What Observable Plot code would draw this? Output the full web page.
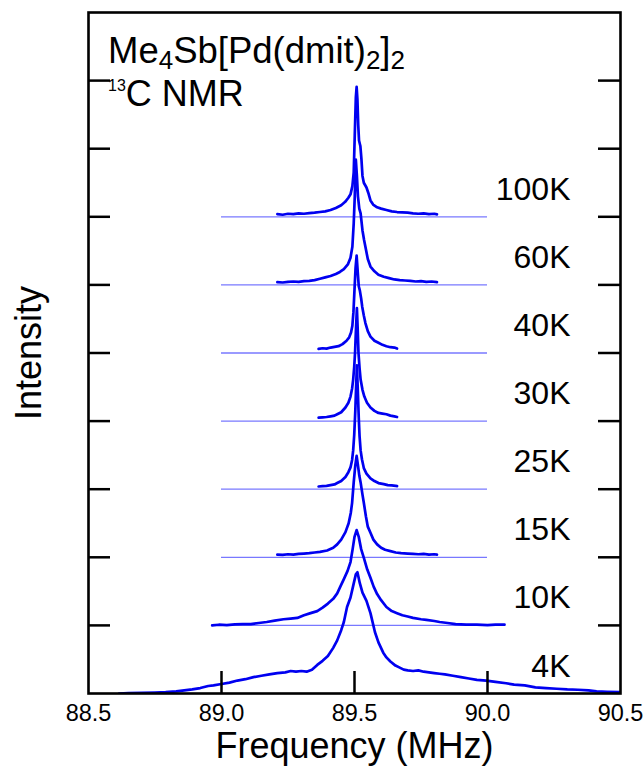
<!DOCTYPE html>
<html>
<head>
<meta charset="utf-8">
<script src="https://cdn.jsdelivr.net/npm/d3@7"></script>
<script src="https://cdn.jsdelivr.net/npm/@observablehq/plot@0.6"></script>
<style>
  html, body { margin: 0; padding: 0; background: #fff; }
</style>
</head>
<body>
<div id="chart"></div>
<script>
// ---- data (frequency in MHz, intensity in offset units) ----
const temps = ["4K", "10K", "15K", "25K", "30K", "40K", "60K", "100K"];
const offsets = [0, 1, 2, 3, 4, 5, 6, 7];
const baselineRange = [89.0, 90.0];
const xTickValues = [88.5, 89.0, 89.5, 90.0, 90.5];
const xInnerTicks = [89.0, 89.5, 90.0];
const yTickValues = [1, 2, 3, 4, 5, 6, 7, 8, 9];
const titleLine1 = ["Me", "4", "Sb[Pd(dmit)", "2", "]", "2"];
const titleLine2 = ["13", "C NMR"];
const xLabel = "Frequency (MHz)";
const yLabel = "Intensity";

const spec100K = [[89.21,0.04],[89.23,0.03],[89.25,0.045],[89.27,0.04],[89.29,0.05],[89.31,0.045],[89.33,0.055],[89.35,0.06],[89.37,0.07],[89.39,0.08],[89.41,0.1],[89.43,0.13],[89.45,0.17],[89.465,0.22],[89.477,0.28],[89.485,0.33],[89.492,0.45],[89.497,0.65],[89.501,1.2],[89.505,1.75],[89.508,1.91],[89.511,1.72],[89.514,1.35],[89.517,1.12],[89.522,1.04],[89.526,0.85],[89.53,0.6],[89.535,0.5],[89.545,0.43],[89.552,0.35],[89.56,0.24],[89.57,0.18],[89.585,0.14],[89.6,0.12],[89.62,0.1],[89.64,0.08],[89.66,0.07],[89.68,0.065],[89.7,0.06],[89.72,0.05],[89.74,0.045],[89.76,0.05],[89.78,0.04],[89.8,0.045],[89.81,0.035]];
const spec60K = [[89.21,0.04],[89.23,0.035],[89.25,0.045],[89.27,0.05],[89.29,0.045],[89.31,0.055],[89.33,0.06],[89.35,0.07],[89.37,0.09],[89.39,0.11],[89.41,0.13],[89.43,0.16],[89.445,0.19],[89.46,0.23],[89.475,0.3],[89.485,0.4],[89.492,0.56],[89.497,0.9],[89.501,1.3],[89.505,1.84],[89.509,1.6],[89.513,1.3],[89.518,1.12],[89.523,1.05],[89.53,0.8],[89.536,0.66],[89.541,0.56],[89.55,0.38],[89.56,0.27],[89.575,0.2],[89.59,0.15],[89.61,0.12],[89.63,0.1],[89.65,0.08],[89.67,0.07],[89.69,0.065],[89.71,0.06],[89.73,0.05],[89.75,0.055],[89.77,0.045],[89.79,0.05],[89.81,0.04]];
const spec40K = [[89.365,0.06],[89.38,0.07],[89.395,0.065],[89.41,0.08],[89.425,0.09],[89.44,0.1],[89.455,0.13],[89.47,0.18],[89.48,0.23],[89.487,0.3],[89.492,0.4],[89.496,0.6],[89.5,0.93],[89.504,1.25],[89.508,1.43],[89.512,1.2],[89.516,0.98],[89.52,0.92],[89.525,0.8],[89.529,0.68],[89.535,0.55],[89.541,0.44],[89.55,0.32],[89.56,0.24],[89.575,0.18],[89.59,0.15],[89.605,0.12],[89.62,0.1],[89.635,0.085],[89.65,0.08],[89.66,0.065]];
const spec30K = [[89.365,0.05],[89.38,0.055],[89.395,0.06],[89.41,0.07],[89.425,0.08],[89.435,0.1],[89.45,0.13],[89.466,0.2],[89.477,0.27],[89.485,0.36],[89.491,0.48],[89.495,0.61],[89.499,0.8],[89.502,1.0],[89.505,1.3],[89.509,1.66],[89.512,1.35],[89.515,1.0],[89.519,0.78],[89.523,0.61],[89.53,0.46],[89.537,0.36],[89.547,0.27],[89.56,0.2],[89.575,0.15],[89.59,0.12],[89.605,0.11],[89.62,0.1],[89.635,0.08],[89.65,0.07],[89.66,0.06]];
const spec25K = [[89.365,0.04],[89.38,0.045],[89.395,0.05],[89.41,0.06],[89.425,0.07],[89.435,0.09],[89.45,0.12],[89.466,0.18],[89.477,0.25],[89.485,0.32],[89.491,0.43],[89.495,0.57],[89.499,0.8],[89.503,1.15],[89.506,1.5],[89.509,1.82],[89.512,1.5],[89.516,1.05],[89.519,0.78],[89.523,0.57],[89.528,0.44],[89.535,0.31],[89.545,0.23],[89.56,0.16],[89.575,0.12],[89.59,0.09],[89.61,0.075],[89.625,0.06],[89.64,0.055],[89.655,0.05],[89.66,0.045]];
const spec15K = [[89.21,0.04],[89.23,0.035],[89.25,0.045],[89.27,0.04],[89.29,0.05],[89.31,0.055],[89.33,0.06],[89.35,0.07],[89.37,0.08],[89.397,0.1],[89.42,0.14],[89.435,0.19],[89.45,0.26],[89.466,0.37],[89.478,0.5],[89.486,0.65],[89.491,0.8],[89.497,1.1],[89.503,1.35],[89.508,1.49],[89.513,1.35],[89.518,1.2],[89.523,1.1],[89.53,0.92],[89.535,0.8],[89.543,0.6],[89.55,0.45],[89.56,0.36],[89.571,0.26],[89.585,0.19],[89.6,0.14],[89.615,0.11],[89.635,0.09],[89.655,0.07],[89.675,0.06],[89.7,0.055],[89.72,0.05],[89.74,0.045],[89.76,0.05],[89.78,0.04],[89.8,0.045],[89.81,0.04]];
const spec10K = [[88.965,0.0],[88.99,0.01],[89.02,0.005],[89.05,0.015],[89.08,0.02],[89.11,0.02],[89.14,0.035],[89.17,0.05],[89.2,0.07],[89.233,0.09],[89.26,0.1],[89.285,0.11],[89.31,0.15],[89.335,0.18],[89.36,0.21],[89.38,0.26],[89.4,0.32],[89.42,0.39],[89.435,0.47],[89.448,0.58],[89.46,0.68],[89.474,0.8],[89.485,0.93],[89.493,1.12],[89.5,1.3],[89.508,1.4],[89.516,1.3],[89.525,1.12],[89.536,0.98],[89.548,0.82],[89.56,0.7],[89.572,0.57],[89.585,0.46],[89.6,0.37],[89.62,0.27],[89.64,0.21],[89.66,0.18],[89.68,0.15],[89.7,0.13],[89.72,0.11],[89.75,0.09],[89.77,0.08],[89.8,0.065],[89.82,0.05],[89.85,0.035],[89.88,0.02],[89.92,0.01],[89.96,0.01],[90.0,0.005],[90.03,0.01],[90.064,0.01]];
const spec4K = [[88.615,0.0],[88.65,0.005],[88.7,0.01],[88.75,0.015],[88.79,0.02],[88.83,0.03],[88.86,0.045],[88.89,0.06],[88.92,0.08],[88.95,0.11],[88.97,0.12],[89.0,0.14],[89.03,0.16],[89.06,0.19],[89.09,0.21],[89.12,0.24],[89.15,0.26],[89.18,0.28],[89.21,0.3],[89.24,0.31],[89.26,0.33],[89.28,0.32],[89.3,0.33],[89.32,0.32],[89.34,0.35],[89.36,0.42],[89.38,0.48],[89.4,0.55],[89.42,0.67],[89.435,0.78],[89.45,0.93],[89.46,1.05],[89.472,1.27],[89.485,1.41],[89.495,1.58],[89.505,1.75],[89.511,1.78],[89.52,1.62],[89.53,1.48],[89.545,1.36],[89.56,1.18],[89.577,0.9],[89.59,0.75],[89.608,0.6],[89.62,0.53],[89.635,0.47],[89.654,0.41],[89.67,0.38],[89.685,0.35],[89.7,0.34],[89.72,0.33],[89.74,0.34],[89.76,0.32],[89.78,0.31],[89.8,0.3],[89.82,0.29],[89.84,0.28],[89.87,0.26],[89.9,0.24],[89.93,0.22],[89.96,0.2],[89.995,0.19],[90.03,0.17],[90.07,0.15],[90.1,0.13],[90.14,0.12],[90.18,0.09],[90.22,0.08],[90.26,0.07],[90.3,0.06],[90.34,0.055],[90.38,0.045],[90.41,0.03],[90.45,0.025],[90.5,0.02]];

const spectra = [spec4K, spec10K, spec15K, spec25K, spec30K, spec40K, spec60K, spec100K];

// ---- build table ----
const rows = spectra.flatMap((s, i) => s.map(([f, h]) => ({f, v: offsets[i] + h, T: temps[i]})));
const baselines = offsets.slice(1);

const W = 644, H = 774;
const mL = 88, mR = 24, mT = 12, mB = 81;
const fw = W - mL - mR, fh = H - mT - mB;
const tick = 22;
const font = "'Liberation Sans', Arial, Helvetica, sans-serif";

const plot = Plot.plot({
  width: W, height: H,
  marginLeft: mL, marginRight: mR, marginTop: mT, marginBottom: mB,
  style: {fontFamily: font, background: "#fff", overflow: "visible"},
  x: {domain: [88.5, 90.5], axis: null},
  y: {domain: [0, 10], axis: null},
  marks: [
    Plot.ruleY(baselines, {y: d => d, x1: baselineRange[0], x2: baselineRange[1], stroke: "#7878ff", strokeWidth: 1.3}),
    Plot.line(rows, {x: "f", y: "v", z: "T", stroke: "#0000f0", strokeWidth: 2.7, strokeLinejoin: "round", clip: true}),
    Plot.tickY(yTickValues, {y: d => d, insetRight: fw - tick, stroke: "#000", strokeWidth: 2.5}),
    Plot.tickY(yTickValues, {y: d => d, insetLeft: fw - tick, stroke: "#000", strokeWidth: 2.5}),
    Plot.tickX(xInnerTicks, {x: d => d, insetTop: fh - tick, stroke: "#000", strokeWidth: 2.5}),
    Plot.frame({stroke: "#000", strokeWidth: 2.6}),
    Plot.text(xTickValues, {x: d => d, text: d => d.toFixed(1), frameAnchor: "bottom", dy: 27, fontSize: 23.5, fill: "#000"}),
    Plot.text([xLabel], {frameAnchor: "bottom", dy: 64, fontSize: 36, fill: "#000"}),
    Plot.text([yLabel], {frameAnchor: "left", textAnchor: "middle", dx: -59, rotate: -90, fontSize: 36, fill: "#000"}),
    Plot.text(temps, {y: (d, i) => offsets[i], frameAnchor: "right", textAnchor: "end", lineAnchor: "bottom", dx: -50, dy: -17, fontSize: 32, fill: "#000"})
  ]
});

// title with sub/superscripts
const svg = d3.select(plot);
const t1 = svg.append("text").attr("x", mL + 20).attr("y", 63).attr("font-size", 36.5)
  .attr("font-family", font).attr("fill", "#000").attr("text-anchor", "start");
titleLine1.forEach((s, i) => {
  const sub = i === 1 || i === 3 || i === 5;
  const prevSub = i === 2 || i === 4;
  const ts = t1.append("tspan").text(s);
  if (sub) ts.attr("font-size", 26).attr("dy", 6);
  if (prevSub) ts.attr("dy", -6);
});
const t2 = svg.append("text").attr("x", mL + 20).attr("y", 106).attr("font-size", 36)
  .attr("font-family", font).attr("fill", "#000").attr("text-anchor", "start");
t2.append("tspan").attr("font-size", 16).attr("dy", -15).text(titleLine2[0]);
t2.append("tspan").attr("dy", 15).text(titleLine2[1]);

document.getElementById("chart").appendChild(plot);
</script>
</body>
</html>
